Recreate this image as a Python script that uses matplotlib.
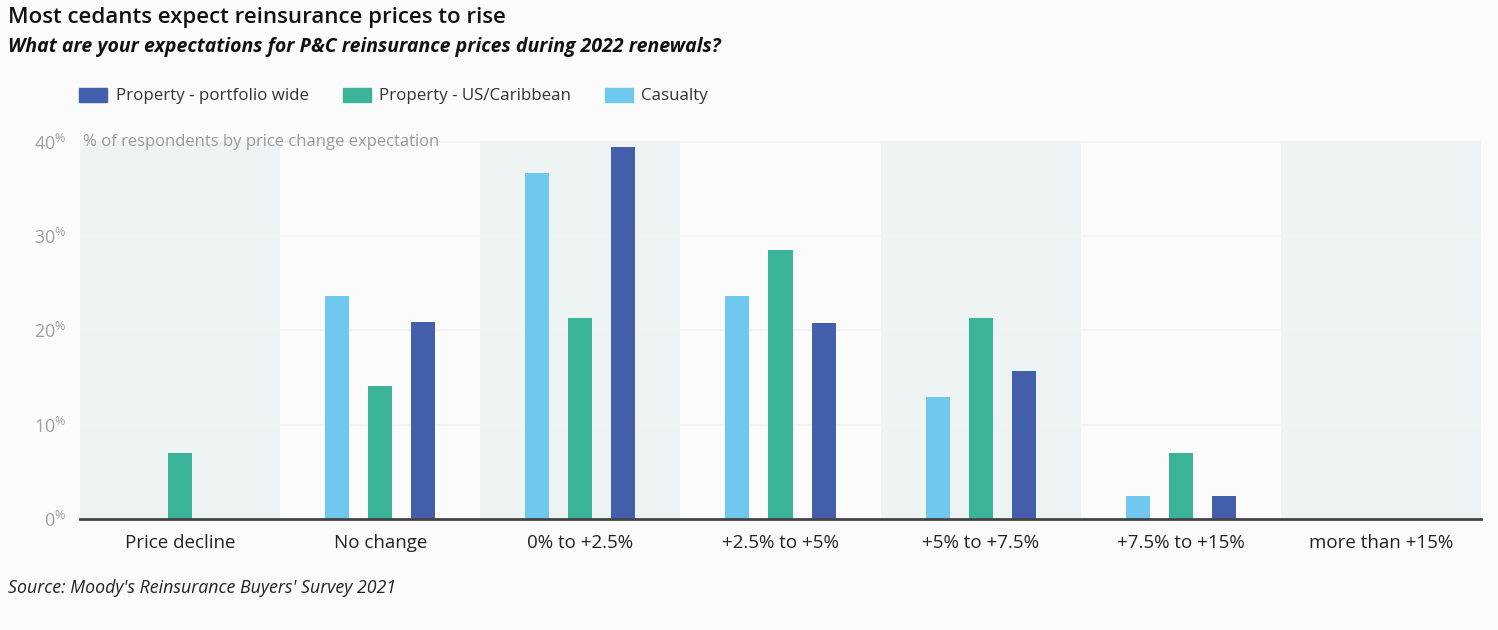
import numpy as np
import matplotlib
matplotlib.use("Agg")
import matplotlib.pyplot as plt
from matplotlib.patches import Patch

categories = ["Price decline", "No change", "0% to +2.5%", "+2.5% to +5%",
              "+5% to +7.5%", "+7.5% to +15%", "more than +15%"]
casualty = [0.0, 23.6, 36.7, 23.6, 12.9, 2.4, 0.0]
us_carib = [7.0, 14.1, 21.3, 28.5, 21.3, 7.0, 0.0]
portfolio = [0.0, 20.9, 39.4, 20.8, 15.7, 2.4, 0.0]
yticks = [0, 10, 20, 30, 40]

c_blue = "#435EAB"
c_green = "#3BB398"
c_light = "#70C8EE"
c_band = "#EEF3F3"
bg = "#FBFBFB"

plt.rcParams['font.family'] = ['Open Sans', 'DejaVu Sans']
plt.rcParams['mathtext.default'] = 'regular'

fig = plt.figure(figsize=(14.98, 6.30), dpi=100, facecolor=bg)
ax = fig.add_axes([80/1498, 1-519/630, 1401/1498, 380/630])
ax.set_facecolor(bg)

x = np.arange(len(categories))
for i in x:
    if i % 2 == 0:
        ax.fill_between([i-0.5, i+0.5], 0, 40, color=c_band, zorder=0, lw=0)

w = 0.12
off = 0.215
ax.bar(x-off, casualty, w, color=c_light, zorder=3)
ax.bar(x, us_carib, w, color=c_green, zorder=3)
ax.bar(x+off, portfolio, w, color=c_blue, zorder=3)

for t in yticks[1:]:
    ax.axhline(t, color="#F3F3F3", lw=1.5, zorder=1)

ax.set_xlim(-0.5, len(categories)-0.5)
ax.set_ylim(0, 40.3)
ax.set_yticks(yticks)
ax.set_yticklabels([f"{t}$^{{\\%}}$" for t in yticks], color="#A0A0A0", fontsize=13)
ax.set_xticks(x)
ax.set_xticklabels(categories, fontsize=13.5, color="#222222")
ax.tick_params(axis='both', length=0)
ax.tick_params(axis='y', pad=10)
ax.tick_params(axis='x', pad=11)
for s in ["top", "right", "left"]:
    ax.spines[s].set_visible(False)
ax.spines["bottom"].set_color("#444444")
ax.spines["bottom"].set_linewidth(2)
ax.spines["bottom"].set_zorder(4)

ax.text(0.002, 40, "% of respondents by price change expectation", fontsize=12,
        color="#9A9A9A", va="center", ha="left", zorder=5,
        transform=ax.get_yaxis_transform())

fig.text(8/1498, 1-18/630, "Most cedants expect reinsurance prices to rise",
         fontsize=16, weight="semibold", color="#111111", va="center", ha="left")
fig.text(8/1498, 1-47/630, "What are your expectations for P&C reinsurance prices during 2022 renewals?",
         fontsize=14, style="italic", weight="bold", color="#111111", va="center", ha="left")
fig.text(8/1498, 1-588/630, "Source: Moody's Reinsurance Buyers' Survey 2021",
         fontsize=12.8, style="italic", color="#222222", va="center", ha="left")

handles = [Patch(color=c_blue, label="Property - portfolio wide"),
           Patch(color=c_green, label="Property - US/Caribbean"),
           Patch(color=c_light, label="Casualty")]
fig.legend(handles=handles, loc="center left", bbox_to_anchor=(64/1498, 1-96/630),
           ncol=3, frameon=False, fontsize=12.2, handlelength=1.65, handleheight=0.9,
           handletextpad=0.5, columnspacing=2.0, labelcolor="#333333")

fig.savefig("out.png", dpi=100, facecolor=bg)
